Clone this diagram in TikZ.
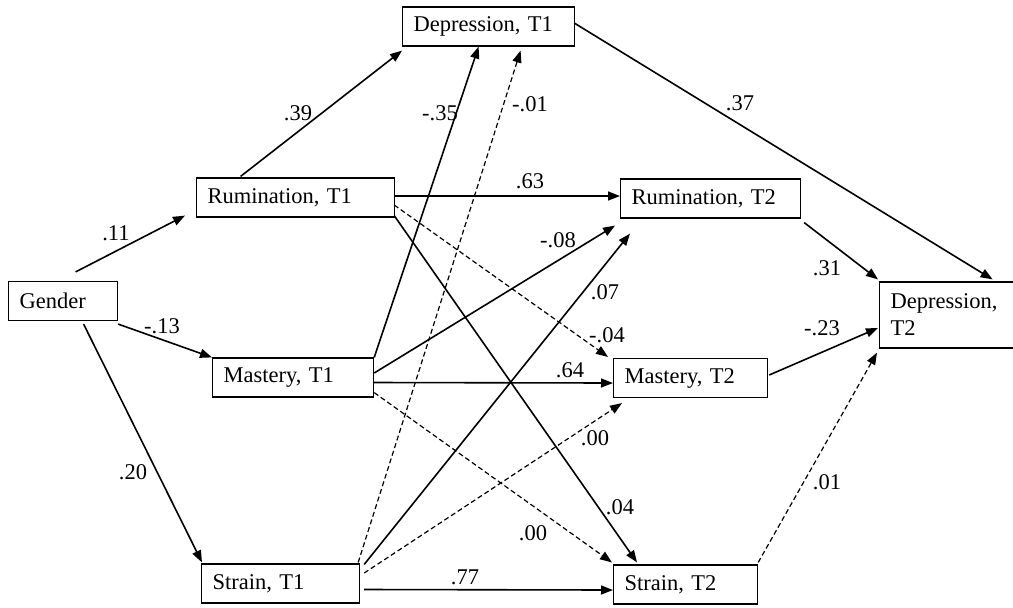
\documentclass[tikz,border=0pt]{standalone}
\usepackage{fontspec}
\setmainfont{Liberation Serif}
\usetikzlibrary{arrows.meta}
\tikzstyle{box} = [draw, rectangle, anchor=west, align=left, inner xsep=5.5pt, inner ysep=0pt, minimum height=19.5pt, line width=0.6pt]
\tikzstyle{coef} = [inner sep=0pt]
\tikzstyle{link} = [-{Triangle[length=6pt,width=4.5pt]}, line width=0.8pt]
\tikzstyle{weak} = [link, line width=0.6pt, dash pattern=on 2.5pt off 1.5pt]

\begin{document}
\begin{tikzpicture}[x=0.5pt, y=-0.5pt, font=\fontsize{11.25}{13.5}\selectfont]
            \useasboundingbox (0,0) rectangle (1013,607);

            \node[box, text width=43.5pt]   (g)     at (8,   301)     {Gender};
            \node[box, text width=88pt]     (r1)    at (196, 197.5)   {Rumination, T1};
            \node[box, text width=69.5pt]   (m1)    at (212, 377.5)   {Mastery, T1};
            \node[box, text width=68pt]     (s1)    at (201, 583.5)   {Strain, T1};
            \node[box, text width=75pt]     (d1)    at (402, 26.5)    {Depression, T1};
            \node[box, text width=79pt]     (r2)    at (620, 198.5)   {Rumination, T2};
            \node[box, text width=66pt]     (m2)    at (613, 378)     {Mastery, T2};
            \node[box, text width=61pt]     (s2)    at (613, 584.5)   {Strain, T2};
            \node[box, text width=59pt, minimum height=33pt] (d2) at (879, 315) {Depression,\\T2};

            \draw[link] ([shift={(12.5,-9)}]g.north) -- ([shift={(-11,-2)}]r1.south west);
            \draw[link] ([shift={(0,3)}]g.south east) -- (m1.north west);
            \draw[link] ([shift={(20.5,3)}]g.south) -- ([shift={(1,-1)}]s1.north west);
            \draw[link] ([shift={(-55,-1)}]r1.north) -- ([shift={(0,4)}]d1.south west);
            \draw[link] ([shift={(-1,-1.5)}]r1.east) -- ([shift={(0,-2.5)}]r2.west);
            \draw[weak] ([shift={(-1,7.5)}]r1.east) -- ([shift={(-5,-1)}]m2.north west);
            \draw[link] ([shift={(-1,-2)}]r1.south east) -- ([shift={(24,-2)}]s2.north west);
            \draw[link] (m1.north east) -- ([shift={(-10,0)}]d1.south);
            \draw[link] ([shift={(0,-4.5)}]m1.east) -- ([shift={(-5,7)}]r2.south west);
            \draw[link] ([shift={(0,5)}]m1.east) -- ([shift={(0,5)}]m2.west);
            \draw[weak] ([shift={(0,-5)}]m1.south east) -- ([shift={(-1,-2)}]s2.north west);
            \draw[weak] ([shift={(-2,-1)}]s1.north east) -- ([shift={(32,4)}]d1.south);
            \draw[link] ([shift={(4,1)}]s1.north east) -- ([shift={(10,15)}]r2.south west);
            \draw[weak] ([shift={(4,-10.5)}]s1.east) -- ([shift={(9,5)}]m2.south west);
            \draw[link] ([shift={(4,6)}]s1.east) -- ([shift={(0,5.5)}]s2.west);
            \draw[link] ([shift={(-1,-3.5)}]d1.east) -- ([shift={(43,-2)}]d2.north);
            \draw[link] ([shift={(3,4)}]r2.south east) -- ([shift={(-1,-2)}]d2.north west);
            \draw[link] ([shift={(1,-3)}]m2.east) -- ([shift={(-1,13)}]d2.west);
            \draw[weak] ([shift={(0,-2)}]s2.north east) -- ([shift={(-2,4)}]d2.south west);

            \node[coef]     (c1)    at (116, 233)   {.11};
            \node[coef]     (c2)    at (162, 326)   {-.13};
            \node[coef]     (c3)    at (133, 472)   {.20};
            \node[coef]     (c4)    at (298, 113)   {.39};
            \node[coef]     (c5)    at (440, 113)   {-.35};
            \node[coef]     (c6)    at (530, 104)   {-.01};
            \node[coef]     (c7)    at (530, 181)   {.63};
            \node[coef]     (c8)    at (558, 240)   {-.08};
            \node[coef]     (c9)    at (605, 292)   {.07};
            \node[coef]     (c10)   at (607, 335)   {-.04};
            \node[coef]     (c11)   at (570, 370)   {.64};
            \node[coef]     (c12)   at (595, 438)   {.00};
            \node[coef]     (c13)   at (620, 507)   {.04};
            \node[coef]     (c14)   at (533, 533)   {.00};
            \node[coef]     (c15)   at (465, 577)   {.77};
            \node[coef]     (c16)   at (740, 103)   {.37};
            \node[coef]     (c17)   at (827, 268)   {.31};
            \node[coef]     (c18)   at (822, 328)   {-.23};
            \node[coef]     (c19)   at (827, 482)   {.01};
        \end{tikzpicture}
\end{document}
